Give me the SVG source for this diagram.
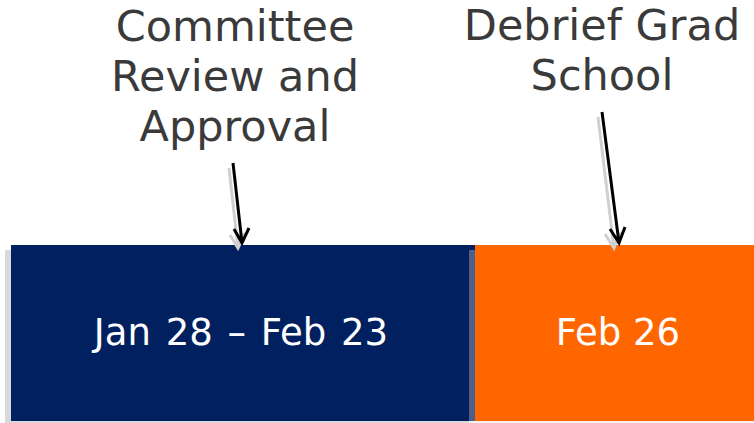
<svg xmlns="http://www.w3.org/2000/svg" width="754" height="423" viewBox="0 0 754 423">
<style>
.lbl{font-family:"DejaVu Sans",Verdana,sans-serif;font-size:43px;fill:#3a3a3a;text-anchor:middle}
.date{font-family:"DejaVu Sans",Verdana,sans-serif;font-size:37px;fill:#ffffff;text-anchor:middle}
.arr{fill:none;stroke:#000;stroke-width:3}
.arrs{fill:none;stroke:#d0d0d0;stroke-width:3}
.shadow{fill:#d9d9d9}
</style>
<rect width="754" height="423" fill="#ffffff"/>
<g id="node-review">
<rect class="shadow" x="5" y="250" width="464" height="176"/>
<rect x="11" y="245" width="464" height="176" fill="#002060"/>
<text class="date" x="241" y="345" word-spacing="3">Jan 28 – Feb 23</text>
</g>
<g id="node-debrief">
<rect x="469" y="250" width="291" height="176" fill="#d9d9d9" opacity="0.35"/>
<rect x="475" y="245" width="285" height="176" fill="#FF6600"/>
<text class="date" x="618" y="345">Feb 26</text>
</g>
<g id="label-review">
<text class="lbl" x="235" y="41">Committee</text>
<text class="lbl" x="235" y="91">Review and</text>
<text class="lbl" x="235" y="141">Approval</text>
</g>
<g id="label-debrief">
<text class="lbl" x="602" y="40">Debrief Grad</text>
<text class="lbl" x="602" y="90">School</text>
</g>
<g id="connectors">
<path class="arrs" d="M229 168 L238 248 M230 235 L238 248 L245 233"/>
<path class="arrs" d="M598 117 L614 248 M605 234 L614 248 L620 232"/>
<path class="arr" d="M233 163 L242 243 M234 229 L242 243 L249 228"/>
<path class="arr" d="M602 112 L619 243 M610 229 L619 243 L625 227"/>
</g>
</svg>
